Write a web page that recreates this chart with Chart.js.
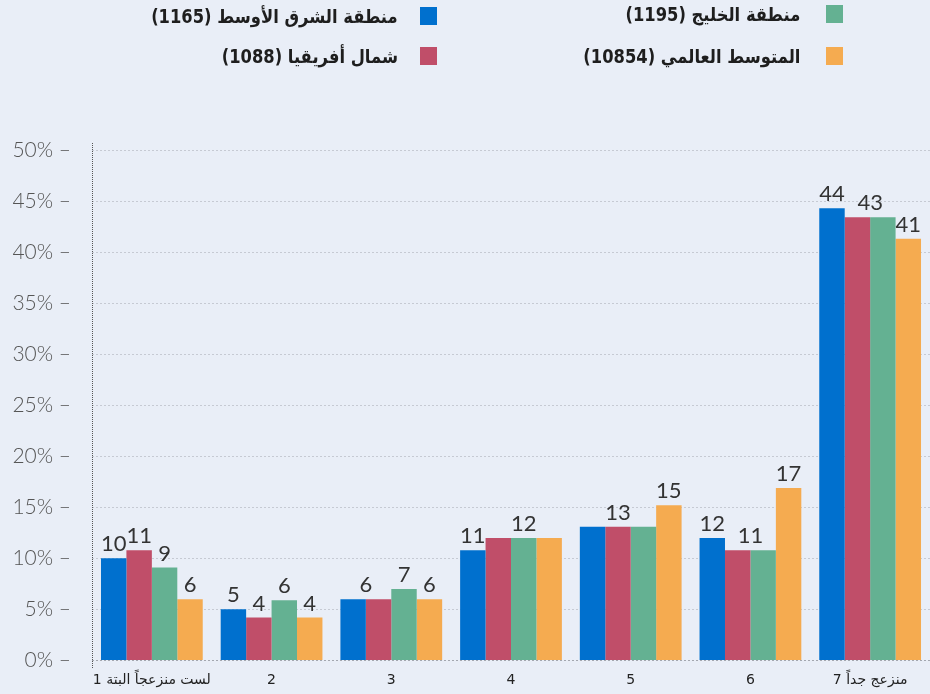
<!DOCTYPE html>
<html>
<head>
<meta charset="utf-8">
<script src="https://cdn.jsdelivr.net/npm/chart.js@4.4.1/dist/chart.umd.min.js"></script>
<style>
  html, body { margin: 0; padding: 0; background: #E9EEF7; }
  #wrap { position: relative; width: 930px; height: 694px; overflow: hidden; }
  #chart { position: absolute; left: 0; top: 0; }
  .box { position: absolute; width: 17px; height: 18px; }
  .txt { position: absolute; font: bold 19px "DejaVu Sans", sans-serif; color: #1e1e1e; white-space: nowrap; line-height: 24px; transform: scaleX(0.86); transform-origin: right center; }
</style>
</head>
<body>
<div id="wrap">
  <canvas id="chart" width="930" height="694"></canvas>
</div>
<script>
// categories (x axis)
const categories = ['1 لست منزعجاً البتة', '2', '3', '4', '5', '6', '7 منزعج جداً'];

// series names, in bar order
const seriesNames = ['منطقة الشرق الأوسط (1165)', 'شمال أفريقيا (1088)', 'منطقة الخليج (1195)', 'المتوسط العالمي (10854)'];
const seriesColors = ['#0070CE', '#C04E69', '#64B192', '#F5AB50'];

// values in %
const middleEast = [10, 5, 6, 10.8, 13.1, 12, 44.3];
const northAfrica = [10.8, 4.2, 6, 12, 13.1, 10.8, 43.4];
const gulf = [9.1, 5.9, 7, 12, 13.1, 10.8, 43.4];
const globalAvg = [6, 4.2, 6, 12, 15.2, 16.9, 41.3];

// y axis ticks
const yTicks = [0, 5, 10, 15, 20, 25, 30, 35, 40, 45, 50];

const seriesData = [middleEast, northAfrica, gulf, globalAvg];

// html legend: two columns, right to left
const legendSlots = [
  { s: 2, box: 826, text: 800, y: 5 },
  { s: 3, box: 826, text: 800, y: 47 },
  { s: 0, box: 420, text: 398, y: 7 },
  { s: 1, box: 420, text: 398, y: 47 }
];
const wrap = document.getElementById('wrap');
legendSlots.forEach(function(l) {
  const b = document.createElement('div');
  b.className = 'box';
  b.style.left = l.box + 'px';
  b.style.top = l.y + 'px';
  b.style.background = seriesColors[l.s];
  wrap.appendChild(b);
  const t = document.createElement('div');
  t.className = 'txt';
  t.dir = 'rtl';
  t.style.right = (930 - l.text) + 'px';
  t.style.top = (l.y - 3) + 'px';
  t.textContent = seriesNames[l.s];
  wrap.appendChild(t);
});

// labels over bars, one label per run of equal rounded values
const valueLabels = {
  id: 'valueLabels',
  afterDatasetsDraw(chart) {
    const ctx = chart.ctx;
    const n = chart.data.datasets.length;
    ctx.save();
    ctx.font = '400 22px Lato, "Open Sans", sans-serif';
    ctx.fillStyle = '#333';
    ctx.textAlign = 'center';
    ctx.textBaseline = 'alphabetic';
    categories.forEach(function(c, i) {
      let start = 0;
      for (let d = 1; d <= n; d++) {
        const prev = Math.round(chart.data.datasets[d - 1].data[i]);
        const cur = d < n ? Math.round(chart.data.datasets[d].data[i]) : null;
        if (cur !== prev) {
          const a = chart.getDatasetMeta(start).data[i];
          const b = chart.getDatasetMeta(d - 1).data[i];
          let top = a.y;
          for (let k = start; k < d; k++) top = Math.min(top, chart.getDatasetMeta(k).data[i].y);
          ctx.fillText(String(prev), (a.x + b.x) / 2, top - 7);
          start = d;
        }
      }
    });
    ctx.restore();
  }
};

// dotted y axis line
const dottedAxis = {
  id: 'dottedAxis',
  afterDraw(chart) {
    const a = chart.chartArea;
    const ctx = chart.ctx;
    ctx.save();
    ctx.strokeStyle = '#555';
    ctx.lineWidth = 1;
    ctx.setLineDash([1, 1]);
    ctx.beginPath();
    ctx.moveTo(a.left + 0.5, a.top - 7);
    ctx.lineTo(a.left + 0.5, a.bottom + 8);
    ctx.stroke();
    ctx.restore();
  }
};

new Chart(document.getElementById('chart').getContext('2d'), {
  type: 'bar',
  data: {
    labels: categories,
    datasets: seriesData.map(function(d, i) {
      return {
        label: seriesNames[i],
        data: d,
        backgroundColor: seriesColors[i],
        borderWidth: 0,
        categoryPercentage: 0.85,
        barPercentage: 1.0
      };
    })
  },
  options: {
    responsive: false,
    animation: false,
    devicePixelRatio: 1,
    layout: { padding: { top: 150, bottom: 0, left: 0, right: 0 } },
    plugins: {
      legend: { display: false },
      tooltip: { enabled: false }
    },
    scales: {
      x: {
        afterFit: function(scale) { scale.height = 30; },
        grid: { display: false, drawTicks: false },
        border: { display: false },
        ticks: {
          padding: 12,
          color: '#222',
          font: { family: '"DejaVu Sans", sans-serif', size: 14 },
          maxRotation: 0,
          autoSkip: false
        }
      },
      y: {
        min: 0,
        max: 50,
        afterBuildTicks: function(scale) {
          scale.ticks = yTicks.map(function(v) { return { value: v }; });
        },
        afterFit: function(scale) { scale.width = 92; },
        grid: {
          drawTicks: false,
          color: function(c) { return c.tick && c.tick.value === 0 ? '#a3a7af' : '#c6cad3'; },
          lineWidth: 1
        },
        border: { display: false, dash: [2, 2] },
        ticks: {
          padding: 21,
          color: '#555',
          font: { family: 'Lato, "Open Sans", sans-serif', size: 21, weight: '300' },
          callback: function(v) { return v + '% –'; }
        }
      }
    }
  },
  plugins: [valueLabels, dottedAxis]
});
</script>
</body>
</html>
